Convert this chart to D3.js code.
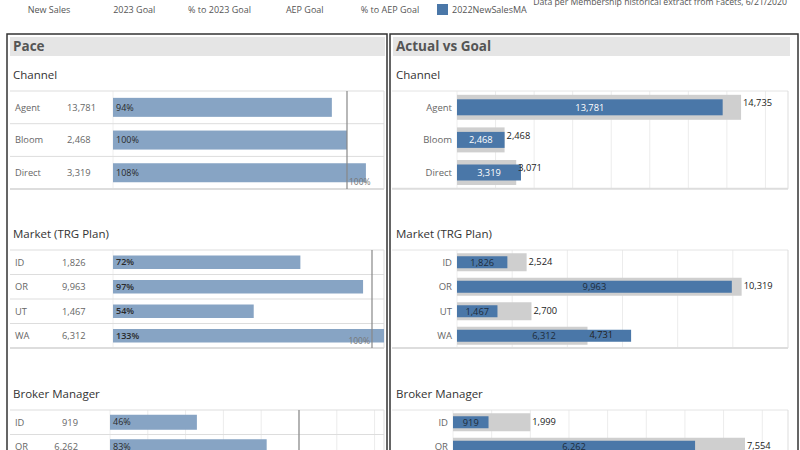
<!DOCTYPE html>
<html>
<head>
<meta charset="utf-8">
<script src="https://cdn.jsdelivr.net/npm/d3@7"></script>
<style>
  body { margin: 0; background: #fff; }
  text { font-family: "Open Sans", sans-serif; }
</style>
</head>
<body>
<script>
// data
var channelCats = ["Agent", "Bloom", "Direct"];
var channelSales = [13781, 2468, 3319];
var channelGoal = [14735, 2468, 3071];

var marketCats = ["ID", "OR", "UT", "WA"];
var marketSales = [1826, 9963, 1467, 6312];
var marketGoal = [2524, 10319, 2700, 4731];

var brokerCats = ["ID", "OR"];
var brokerSales = [919, 6262];
var brokerGoal = [1999, 7554];

var legendLabels = ["New Sales", "2023 Goal", "% to 2023 Goal", "AEP Goal", "% to AEP Goal"];
var sourceNote = "Data per Membership historical extract from Facets, 6/21/2020";

var WIDTH = 800;
var HEIGHT = 450;
var fmt = d3.format(",");
var pctFmt = d3.format(".0%");

var svg = d3.select("body")
  .append("svg")
  .attr("width", WIDTH)
  .attr("height", HEIGHT);

var rows = function(cats, sales, goal) {
  return cats.map(function(c, i) {
    return { cat: c, sales: sales[i], goal: goal[i], pct: sales[i] / goal[i] };
  });
};

// header legend
var legendX = d3.scalePoint().domain(legendLabels).range([49, 390]);
svg.selectAll("text.leg")
  .data(legendLabels)
  .enter()
  .append("text")
  .attr("class", "leg")
  .attr("x", function(d) { return legendX(d); })
  .attr("y", 13)
  .attr("text-anchor", "middle")
  .attr("font-size", 9)
  .attr("fill", "#555")
  .text(function(d) { return d; });

svg.append("rect").attr("x", 437).attr("y", 4).attr("width", 11).attr("height", 11).attr("fill", "#4a77a8");
svg.append("text").attr("x", 452).attr("y", 13).attr("font-size", 9).attr("fill", "#555").text("2022NewSalesMA");
svg.append("text").attr("x", 787).attr("y", 5).attr("text-anchor", "end").attr("font-size", 8.7).attr("fill", "#555").text(sourceNote);

// panel frames
svg.append("rect").attr("x", 7).attr("y", 34).attr("width", 380).attr("height", 430)
  .attr("fill", "none").attr("stroke", "#333").attr("stroke-width", 1.5);
svg.append("rect").attr("x", 390).attr("y", 34).attr("width", 408).attr("height", 430)
  .attr("fill", "none").attr("stroke", "#333").attr("stroke-width", 1.5);

var titleBar = function(x, w, label) {
  svg.append("rect").attr("x", x).attr("y", 37).attr("width", w).attr("height", 19).attr("fill", "#e5e5e5");
  svg.append("text").attr("x", x + 3).attr("y", 51).attr("font-size", 13.5).attr("font-weight", "bold")
    .attr("fill", "#555").text(label);
};
titleBar(10, 375, "Pace");
titleBar(393, 397, "Actual vs Goal");

var sectionTitle = function(x, y, label) {
  svg.append("text").attr("x", x).attr("y", y).attr("font-size", 11.5).attr("fill", "#333").text(label);
};

// left: pace bars (share of goal)
var drawPace = function(opt) {
  var data = rows(opt.cats, opt.sales, opt.goal);
  var g = svg.append("g");
  var bottom = opt.top + opt.rowH * data.length;
  var y = d3.scaleBand().domain(opt.cats).range([opt.top, bottom]);
  var x = d3.scaleLinear().domain([0, 1]).range([opt.x0, opt.x100]);

  sectionTitle(13, opt.top - 12, opt.title);

  if (opt.grid) {
    g.selectAll("line.grid")
      .data(d3.range(0.2, x.invert(384), 0.2))
      .enter()
      .append("line")
      .attr("x1", function(d) { return x(d); })
      .attr("x2", function(d) { return x(d); })
      .attr("y1", opt.top).attr("y2", bottom)
      .attr("stroke", "#ececec");
  }

  g.append("line").attr("x1", opt.x0).attr("x2", opt.x0).attr("y1", opt.top).attr("y2", bottom).attr("stroke", "#eee");
  g.append("line").attr("x1", 384).attr("x2", 384).attr("y1", opt.top).attr("y2", bottom).attr("stroke", "#ddd");

  g.selectAll("line.sep")
    .data(opt.cats)
    .enter()
    .append("line")
    .attr("x1", 10).attr("x2", 384)
    .attr("y1", function(d) { return y(d); })
    .attr("y2", function(d) { return y(d); })
    .attr("stroke", "#ddd");
  g.append("line").attr("x1", 10).attr("x2", 384).attr("y1", bottom).attr("y2", bottom)
    .attr("stroke", "#ddd").attr("stroke-width", 2);

  g.selectAll("rect.bar")
    .data(data)
    .enter()
    .append("rect")
    .attr("x", opt.x0)
    .attr("y", function(d) { return y(d.cat) + (opt.rowH - opt.barH) / 2; })
    .attr("width", function(d) { return Math.min(x(d.pct), 384) - opt.x0; })
    .attr("height", opt.barH)
    .attr("fill", "#87a4c4");

  g.append("line").attr("x1", x(1)).attr("x2", x(1)).attr("y1", opt.top).attr("y2", bottom)
    .attr("stroke", "#888").attr("stroke-width", 1.2);
  if (opt.refAnchor) {
    g.append("text")
      .attr("x", opt.refAnchor === "start" ? x(1) + 2 : x(1) - 2)
      .attr("y", bottom - 4)
      .attr("text-anchor", opt.refAnchor)
      .attr("font-size", 8.5)
      .attr("fill", "#777")
      .text("100%");
  }

  g.selectAll("text.pct")
    .data(data)
    .enter()
    .append("text")
    .attr("x", opt.x0 + 3)
    .attr("y", function(d) { return y(d.cat) + opt.rowH / 2; })
    .attr("dy", "0.35em")
    .attr("font-size", 9)
    .attr("font-weight", opt.pctWeight || "normal")
    .attr("fill", "#2a2a2a")
    .text(function(d) { return pctFmt(d.pct); });

  g.selectAll("text.cat")
    .data(data)
    .enter()
    .append("text")
    .attr("x", 15)
    .attr("y", function(d) { return y(d.cat) + opt.rowH / 2; })
    .attr("dy", "0.35em")
    .attr("font-size", 9.3)
    .attr("fill", "#666")
    .text(function(d) { return d.cat; });

  g.selectAll("text.val")
    .data(data)
    .enter()
    .append("text")
    .attr("x", opt.valX)
    .attr("y", function(d) { return y(d.cat) + opt.rowH / 2; })
    .attr("dy", "0.35em")
    .attr("text-anchor", opt.valAnchor)
    .attr("font-size", 9.3)
    .attr("fill", "#666")
    .text(function(d) { return fmt(d.sales); });
};

// right: actual vs goal bars
var drawActual = function(opt) {
  var data = rows(opt.cats, opt.sales, opt.goal);
  var g = svg.append("g");
  var bottom = opt.top + opt.rowH * data.length;
  var y = d3.scaleBand().domain(opt.cats).range([opt.top, bottom]);
  var x = d3.scaleLinear().domain([0, opt.max]).range([opt.x0, 788]);

  sectionTitle(396, opt.top - 12, opt.title);

  g.selectAll("line.grid")
    .data(d3.range(opt.step, opt.max, opt.step))
    .enter()
    .append("line")
    .attr("x1", function(d) { return x(d); })
    .attr("x2", function(d) { return x(d); })
    .attr("y1", opt.top).attr("y2", bottom)
    .attr("stroke", "#ececec");
  g.append("line").attr("x1", opt.x0).attr("x2", opt.x0).attr("y1", opt.top).attr("y2", bottom).attr("stroke", "#eee");
  g.append("line").attr("x1", 392).attr("x2", 788).attr("y1", opt.top).attr("y2", opt.top).attr("stroke", "#e4e4e4");
  g.append("line").attr("x1", 392).attr("x2", 788).attr("y1", bottom).attr("y2", bottom)
    .attr("stroke", "#ddd").attr("stroke-width", 2);
  g.append("line").attr("x1", 788).attr("x2", 788).attr("y1", opt.top).attr("y2", bottom).attr("stroke", "#ddd");

  g.selectAll("rect.goal")
    .data(data)
    .enter()
    .append("rect")
    .attr("x", opt.x0)
    .attr("y", function(d) { return y(d.cat) + (opt.rowH - opt.goalH) / 2; })
    .attr("width", function(d) { return x(d.goal) - opt.x0; })
    .attr("height", opt.goalH)
    .attr("fill", "#cfcfcf");

  g.selectAll("rect.sales")
    .data(data)
    .enter()
    .append("rect")
    .attr("x", opt.x0)
    .attr("y", function(d) { return y(d.cat) + (opt.rowH - opt.salesH) / 2; })
    .attr("width", function(d) { return x(d.sales) - opt.x0; })
    .attr("height", opt.salesH)
    .attr("fill", "#4a77a8");

  g.selectAll("text.sales")
    .data(data)
    .enter()
    .append("text")
    .attr("x", function(d) { return (opt.x0 + x(d.sales)) / 2; })
    .attr("y", function(d) { return y(d.cat) + opt.rowH / 2; })
    .attr("dy", "0.35em")
    .attr("text-anchor", "middle")
    .attr("font-size", 9.3)
    .attr("fill", opt.salesColor)
    .text(function(d) { return fmt(d.sales); });

  g.selectAll("text.goal")
    .data(data)
    .enter()
    .append("text")
    .attr("x", function(d) { return x(d.goal) + 2; })
    .attr("y", function(d) { return y(d.cat) + (opt.rowH - opt.goalH) / 2 + 8; })
    .attr("dy", "0.35em")
    .attr("font-size", 9.3)
    .attr("fill", "#222")
    .text(function(d) { return fmt(d.goal); });

  g.selectAll("text.cat")
    .data(data)
    .enter()
    .append("text")
    .attr("x", opt.x0 - 5)
    .attr("y", function(d) { return y(d.cat) + opt.rowH / 2; })
    .attr("dy", "0.35em")
    .attr("text-anchor", "end")
    .attr("font-size", 9.5)
    .attr("fill", "#666")
    .text(function(d) { return d.cat; });
};

drawPace({ title: "Channel", cats: channelCats, sales: channelSales, goal: channelGoal,
  top: 91, rowH: 32.7, barH: 19, x0: 113, x100: 347, valX: 67, valAnchor: "start", refAnchor: "start" });
drawPace({ title: "Market (TRG Plan)", cats: marketCats, sales: marketSales, goal: marketGoal,
  top: 250, rowH: 24.5, barH: 13.5, x0: 113, x100: 372, valX: 62, valAnchor: "start", refAnchor: "end", pctWeight: 600 });
drawPace({ title: "Broker Manager", cats: brokerCats, sales: brokerSales, goal: brokerGoal,
  top: 410, rowH: 24.5, barH: 15, x0: 110, x100: 299, valX: 78, valAnchor: "end", grid: true });

drawActual({ title: "Channel", cats: channelCats, sales: channelSales, goal: channelGoal,
  top: 91, rowH: 32.6, goalH: 25, salesH: 16, x0: 457, max: 17170, step: 2000, salesColor: "#fff" });
drawActual({ title: "Market (TRG Plan)", cats: marketCats, sales: marketSales, goal: marketGoal,
  top: 250, rowH: 24.5, goalH: 18, salesH: 12, x0: 457, max: 12000, step: 2000, salesColor: "#1d2b3a" });
drawActual({ title: "Broker Manager", cats: brokerCats, sales: brokerSales, goal: brokerGoal,
  top: 410, rowH: 24.5, goalH: 18, salesH: 12, x0: 453, max: 8666, step: 1000, salesColor: "#1d2b3a" });
</script>
</body>
</html>
